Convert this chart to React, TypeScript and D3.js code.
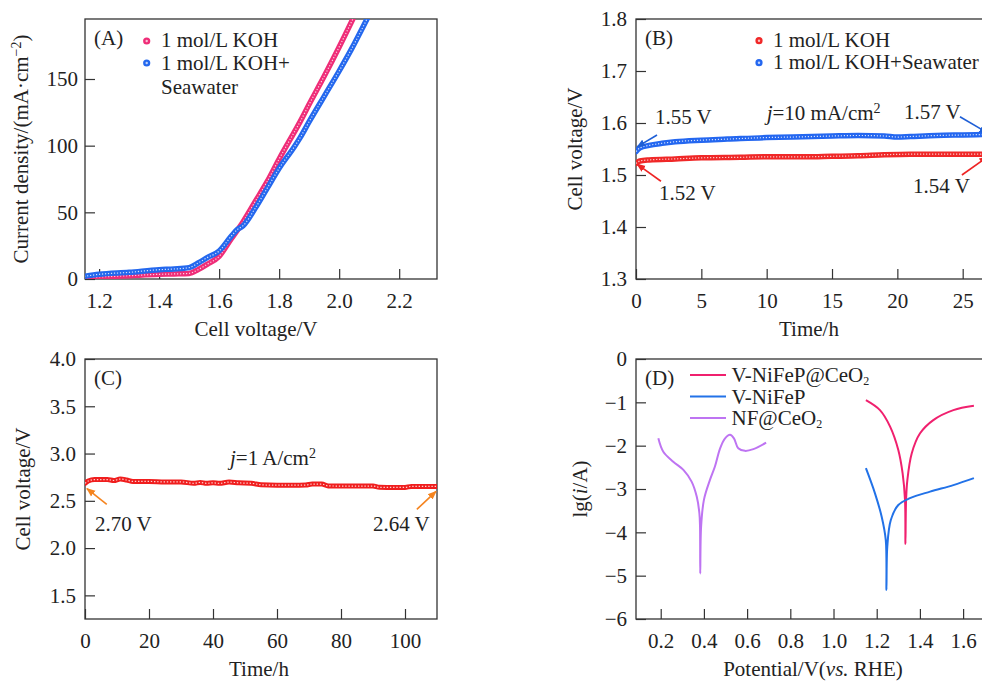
import { useEffect, useRef } from 'react';
import * as d3 from 'd3';

type Pt = [number, number];

// (A) polarization curves: [cell voltage V, current density mA/cm2]
const lsvKoh: Pt[] = [
  [1.15, 1], [1.2, 1.5], [1.3, 2.5], [1.4, 3.5], [1.45, 3.8], [1.5, 4.2], [1.53, 7], [1.56, 11],
  [1.6, 17], [1.64, 30], [1.68, 43], [1.72, 58], [1.76, 73], [1.8, 90], [1.85, 110], [1.87, 118],
  [1.9, 131], [1.95, 152], [2.0, 174], [2.05, 197]
];
const lsvSea: Pt[] = [
  [1.15, 2], [1.2, 3.5], [1.3, 5], [1.4, 7], [1.45, 7.5], [1.5, 8.5], [1.53, 12], [1.56, 16],
  [1.6, 21], [1.64, 32], [1.66, 37], [1.68, 40], [1.72, 53], [1.76, 68], [1.8, 83], [1.85, 99],
  [1.87, 106], [1.9, 118], [1.95, 137], [2.0, 156], [2.04, 172], [2.095, 196]
];
const lsvXTicks = [1.2, 1.4, 1.6, 1.8, 2.0, 2.2];
const lsvYTicks = [0, 50, 100, 150];

// (B) stability at 10 mA/cm2: [time h, cell voltage V]
const stabKoh: Pt[] = [
  [0, 1.522], [0.3, 1.527], [1, 1.529], [3, 1.531], [5, 1.533], [8, 1.534], [10, 1.535], [13, 1.535],
  [15, 1.536], [17, 1.537], [19, 1.539], [21, 1.540], [23, 1.540], [25, 1.540], [27, 1.540]
];
const stabSea: Pt[] = [
  [0, 1.545], [0.3, 1.552], [1, 1.557], [2, 1.561], [3, 1.564], [5, 1.567], [7, 1.569], [10, 1.572],
  [12, 1.573], [15, 1.575], [17, 1.576], [19, 1.575], [20, 1.573], [21, 1.574], [23, 1.576],
  [25, 1.577], [27, 1.578]
];
const stabXTicks = [0, 5, 10, 15, 20, 25];
const stabYTicks = [1.3, 1.4, 1.5, 1.6, 1.7, 1.8];

// (C) stability at 1 A/cm2
const highJ: Pt[] = [
  [0, 2.685], [1, 2.71], [3, 2.725], [7, 2.725], [9, 2.715], [11, 2.73], [13, 2.72], [15, 2.705],
  [20, 2.705], [25, 2.70], [30, 2.70], [34, 2.685], [36, 2.695], [38, 2.685], [40, 2.69], [42, 2.685],
  [45, 2.698], [48, 2.69], [52, 2.685], [55, 2.67], [60, 2.665], [65, 2.665], [69, 2.667], [71, 2.677],
  [74, 2.677], [76, 2.658], [80, 2.656], [85, 2.656], [90, 2.656], [92, 2.643], [96, 2.642],
  [100, 2.642], [102, 2.652], [106, 2.652], [110, 2.652]
];
const highJXTicks = [0, 20, 40, 60, 80, 100];
const highJYTicks = [1.5, 2.0, 2.5, 3.0, 3.5, 4.0];

// (D) Tafel-type curves: [potential V vs RHE, lg(i/A)]
const tafelCeo: Pt[] = [
  [1.15, -0.95], [1.215, -1.18], [1.262, -1.56], [1.30, -2.10], [1.320, -2.64], [1.331, -3.25],
  [1.333, -4.27], [1.336, -3.25], [1.342, -2.79], [1.362, -2.18], [1.40, -1.72], [1.462, -1.41],
  [1.555, -1.18], [1.65, -1.08]
];
const tafelNiFeP: Pt[] = [
  [1.15, -2.52], [1.192, -3.10], [1.223, -3.64], [1.242, -4.18], [1.245, -5.33], [1.249, -4.33],
  [1.265, -3.72], [1.30, -3.37], [1.354, -3.21], [1.447, -3.06], [1.555, -2.91], [1.65, -2.75]
];
const tafelNf: Pt[] = [
  [0.189, -1.83], [0.212, -2.14], [0.258, -2.37], [0.305, -2.56], [0.343, -2.83], [0.367, -3.18],
  [0.379, -3.56], [0.382, -3.87], [0.383, -4.95], [0.387, -3.87], [0.40, -3.25], [0.428, -2.79],
  [0.451, -2.48], [0.475, -2.06], [0.498, -1.83], [0.521, -1.75], [0.539, -1.83], [0.559, -2.06],
  [0.59, -2.12], [0.629, -2.08], [0.688, -1.93]
];
const tafelXTicks = [0.2, 0.4, 0.6, 0.8, 1.0, 1.2, 1.4, 1.6];
const tafelYTicks = [0, -1, -2, -3, -4, -5, -6];

const FONT = '"Liberation Serif", "Times New Roman", serif';
const FS = 21;
const INK = '#222';

type Part = [string, string?];

// write a text made of plain / italic / sup / sub pieces
function richText(sel: any, parts: Part[]) {
  parts.forEach(([s, kind]) => {
    const t = sel.append('tspan').text(s);
    if (kind === 'i') t.attr('font-style', 'italic');
    if (kind === 'sup') t.attr('baseline-shift', 'super').attr('font-size', 14);
    if (kind === 'sub') t.attr('baseline-shift', -3).attr('font-size', 12);
  });
  return sel;
}

function styleAxis(ax: any) {
  ax.attr('font-size', FS).attr('font-family', FONT).attr('color', '#333');
  ax.select('.domain').remove();
  ax.selectAll('text').attr('fill', INK);
  ax.selectAll('line').attr('stroke-width', 1.2);
}

function setupPanel(svg: any, id: string, p: any) {
  const x = d3.scaleLinear().domain(p.xDomain).range([p.left, p.right]);
  const y = d3.scaleLinear().domain(p.yDomain).range([p.bottom, p.top]);

  svg.select('defs').append('clipPath').attr('id', `clip-${id}`)
    .append('rect')
    .attr('x', p.left).attr('y', p.top)
    .attr('width', p.right - p.left).attr('height', p.bottom - p.top);

  const xAxis = svg.append('g')
    .attr('transform', `translate(0,${p.bottom})`)
    .call(d3.axisBottom(x).tickValues(p.xTicks).tickFormat(d3.format(p.xFmt))
      .tickSizeInner(-10).tickSizeOuter(0).tickPadding(14));
  styleAxis(xAxis);

  const yAxis = svg.append('g')
    .attr('transform', `translate(${p.left},0)`)
    .call(d3.axisLeft(y).tickValues(p.yTicks).tickFormat(d3.format(p.yFmt))
      .tickSizeInner(-10).tickSizeOuter(0).tickPadding(p.yPad));
  styleAxis(yAxis);

  svg.append('rect')
    .attr('x', p.left).attr('y', p.top)
    .attr('width', p.right - p.left).attr('height', p.bottom - p.top)
    .attr('fill', 'none').attr('stroke', '#333').attr('stroke-width', 1.3);

  // axis titles
  richText(svg.append('text')
    .attr('x', (p.left + p.right) / 2 + (p.xTitleShift || 0)).attr('y', p.bottom + 57)
    .attr('text-anchor', 'middle'), p.xTitle);
  richText(svg.append('text')
    .attr('transform', `translate(${p.yTitleX},${(p.top + p.bottom) / 2}) rotate(-90)`)
    .attr('text-anchor', 'middle').attr('dy', '0.35em'), p.yTitle);

  // panel letter
  svg.append('text').attr('x', p.left + 9).attr('y', p.top + 26).text(p.letter);

  const plot = svg.append('g').attr('clip-path', `url(#clip-${id})`);
  return { x, y, plot };
}

// dense marker band: coloured stroke with a dotted white core
function band(g: any, pts: Pt[], line: any, color: string, w: number, dash: string) {
  g.append('path').datum(pts).attr('d', line)
    .attr('fill', 'none').attr('stroke', color).attr('stroke-width', w)
    .attr('stroke-linejoin', 'round').attr('stroke-linecap', 'round');
  g.append('path').datum(pts).attr('d', line)
    .attr('fill', 'none').attr('stroke', '#fff').attr('stroke-opacity', 0.8)
    .attr('stroke-width', 1.2).attr('stroke-dasharray', dash);
}

function arrow(svg: any, x: any, y: any, from: Pt, to: Pt, key: string, color: string) {
  svg.append('line')
    .attr('x1', x(from[0])).attr('y1', y(from[1]))
    .attr('x2', x(to[0])).attr('y2', y(to[1]))
    .attr('stroke', color).attr('stroke-width', 1.6)
    .attr('marker-end', `url(#arr-${key})`);
}

function dotLegend(svg: any, x0: number, y0: number, color: string) {
  svg.append('circle').attr('cx', x0).attr('cy', y0).attr('r', 3.6).attr('fill', color);
  svg.append('circle').attr('cx', x0).attr('cy', y0).attr('r', 1.2).attr('fill', '#fff').attr('opacity', 0.7);
}

export default function App() {
  const svgRef = useRef<SVGSVGElement>(null);

  useEffect(() => {
    if (!svgRef.current) return;
    const svg = d3.select(svgRef.current);
    svg.selectAll('*').remove();
    svg.attr('font-family', FONT).attr('font-size', FS).attr('fill', INK);

    const defs = svg.append('defs');
    const arrowColors: [string, string][] = [['blue', '#1f5fd6'], ['red', '#ee2424'], ['orange', '#f5841f']];
    arrowColors.forEach(([k, c]) => {
      defs.append('marker').attr('id', `arr-${k}`)
        .attr('viewBox', '0 0 10 10').attr('refX', 9).attr('refY', 5)
        .attr('markerWidth', 9).attr('markerHeight', 9)
        .attr('markerUnits', 'userSpaceOnUse').attr('orient', 'auto')
        .append('path').attr('d', 'M0,1 L10,5 L0,9 z').attr('fill', c);
    });

    // ---------- (A) ----------
    const a = setupPanel(svg, 'a', {
      left: 85, right: 437, top: 19, bottom: 279,
      xDomain: [1.153, 2.326], yDomain: [0, 195],
      xTicks: lsvXTicks, yTicks: lsvYTicks, xFmt: '.1f', yFmt: 'd', yPad: 7,
      xTitle: [['Cell voltage/V']], xTitleShift: -5,
      yTitle: [['Current density/(mA·cm'], ['−2', 'sup'], [')']], yTitleX: 21,
      letter: '(A)'
    });
    const lineA = d3.line<Pt>().x(d => a.x(d[0])).y(d => a.y(d[1])).curve(d3.curveMonotoneX);
    band(a.plot, lsvKoh, lineA, '#ef2d78', 5.5, '1.2 1.8');
    band(a.plot, lsvSea, lineA, '#2468ee', 5.5, '1.2 1.8');

    dotLegend(svg, 146.7, 41, '#ef2d78');
    svg.append('text').attr('x', 161).attr('y', 47).text('1 mol/L KOH');
    dotLegend(svg, 146.7, 63, '#2468ee');
    svg.append('text').attr('x', 161).attr('y', 70).text('1 mol/L KOH+');
    svg.append('text').attr('x', 161).attr('y', 93.5).text('Seawater');

    // ---------- (B) ----------
    const b = setupPanel(svg, 'b', {
      left: 636, right: 990, top: 19, bottom: 279,
      xDomain: [0, 27.09], yDomain: [1.3, 1.8],
      xTicks: stabXTicks, yTicks: stabYTicks, xFmt: 'd', yFmt: '.1f', yPad: 9,
      xTitle: [['Time/h']], xTitleShift: -4,
      yTitle: [['Cell voltage/V']], yTitleX: 575,
      letter: '(B)'
    });
    const lineB = d3.line<Pt>().x(d => b.x(d[0])).y(d => b.y(d[1])).curve(d3.curveMonotoneX);
    band(b.plot, stabKoh, lineB, '#f02828', 5.5, '1.2 1.8');
    band(b.plot, stabSea, lineB, '#2467f0', 5.5, '1.2 1.8');

    dotLegend(svg, 759, 40.7, '#f02828');
    svg.append('text').attr('x', 773).attr('y', 47).text('1 mol/L KOH');
    dotLegend(svg, 759, 62.7, '#2467f0');
    svg.append('text').attr('x', 773).attr('y', 69).text('1 mol/L KOH+Seawater');

    const put = (px: any, py: any, at: Pt, parts: Part[]) =>
      richText(svg.append('text').attr('x', px(at[0])).attr('y', py(at[1])), parts);

    put(b.x, b.y, [1.45, 1.598], [['1.55 V']]);
    put(b.x, b.y, [1.76, 1.452], [['1.52 V']]);
    put(b.x, b.y, [10.0, 1.606], [['j', 'i'], ['=10 mA/cm'], ['2', 'sup']]);
    put(b.x, b.y, [20.5, 1.607], [['1.57 V']]);
    put(b.x, b.y, [21.2, 1.465], [['1.54 V']]);
    arrow(svg, b.x, b.y, [1.61, 1.577], [0.08, 1.554], 'blue', '#1f5fd6');
    arrow(svg, b.x, b.y, [1.91, 1.488], [0.08, 1.521], 'red', '#ee2424');
    arrow(svg, b.x, b.y, [24.79, 1.612], [26.9, 1.581], 'blue', '#1f5fd6');
    arrow(svg, b.x, b.y, [24.94, 1.500], [26.9, 1.535], 'red', '#ee2424');

    // ---------- (C) ----------
    const c = setupPanel(svg, 'c', {
      left: 85, right: 437, top: 359, bottom: 619,
      xDomain: [0, 110], yDomain: [1.25, 4.0],
      xTicks: highJXTicks, yTicks: highJYTicks, xFmt: 'd', yFmt: '.1f', yPad: 9,
      xTitle: [['Time/h']], xTitleShift: -2,
      yTitle: [['Cell voltage/V']], yTitleX: 23,
      letter: '(C)'
    });
    const lineC = d3.line<Pt>().x(d => c.x(d[0])).y(d => c.y(d[1])).curve(d3.curveMonotoneX);
    band(c.plot, highJ, lineC, '#f01e1e', 5, '1.4 1.8');

    put(c.x, c.y, [45.3, 2.874], [['j', 'i'], ['=1 A/cm'], ['2', 'sup']]);
    put(c.x, c.y, [3.1, 2.182], [['2.70 V']]);
    put(c.x, c.y, [90.0, 2.182], [['2.64 V']]);
    arrow(svg, c.x, c.y, [6.8, 2.463], [0.6, 2.63], 'orange', '#f5841f');
    arrow(svg, c.x, c.y, [103.7, 2.41], [109.7, 2.60], 'orange', '#f5841f');

    // ---------- (D) ----------
    const dp = setupPanel(svg, 'd', {
      left: 636, right: 990, top: 359, bottom: 619,
      xDomain: [0.0856, 1.7245], yDomain: [-6, 0],
      xTicks: tafelXTicks, yTicks: tafelYTicks, xFmt: '.1f', yFmt: 'd', yPad: 9,
      xTitle: [['Potential/V('], ['vs.', 'i'], [' RHE)']], xTitleShift: 0,
      yTitle: [['lg('], ['i', 'i'], ['/A)']], yTitleX: 580,
      letter: '(D)'
    });
    const lineD = d3.line<Pt>().x(d => dp.x(d[0])).y(d => dp.y(d[1])).curve(d3.curveCatmullRom.alpha(0.5));
    const tafelSeries: [Pt[], string, Part[]][] = [
      [tafelCeo, '#f0206e', [['V-NiFeP@CeO'], ['2', 'sub']]],
      [tafelNiFeP, '#2272e8', [['V-NiFeP']]],
      [tafelNf, '#be74f2', [['NF@CeO'], ['2', 'sub']]]
    ];
    tafelSeries.forEach(([pts, color, label], i) => {
      dp.plot.append('path').datum(pts).attr('d', lineD)
        .attr('fill', 'none').attr('stroke', color).attr('stroke-width', 2);
      const ly = 382 + i * 21.5;
      svg.append('line').attr('x1', 690).attr('x2', 726).attr('y1', ly - 7).attr('y2', ly - 7)
        .attr('stroke', color).attr('stroke-width', 2);
      richText(svg.append('text').attr('x', 731.5).attr('y', ly), label);
    });
  }, []);

  return (
    <svg
      ref={svgRef}
      width={982}
      height={681}
      style={{ position: 'absolute', left: 0, top: 0, background: '#fff' }}
    />
  );
}
